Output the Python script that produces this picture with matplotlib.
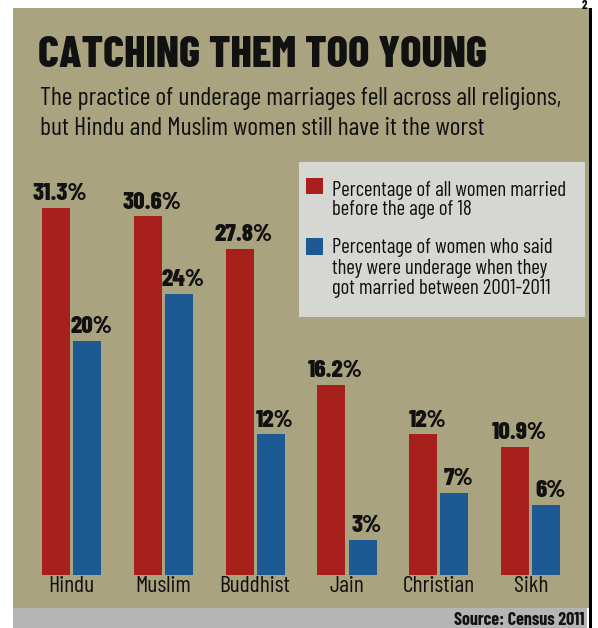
import matplotlib
matplotlib.use("Agg")
import matplotlib.pyplot as plt
from matplotlib.patches import Rectangle

# datos
religions = ["Hindu", "Muslim", "Buddhist", "Jain", "Christian", "Sikh"]
married_before_18 = [31.3, 30.6, 27.8, 16.2, 12.0, 10.9]
underage_2001_2011 = [20, 24, 12, 3, 7, 6]
labels_red = ["31.3%", "30.6%", "27.8%", "16.2%", "12%", "10.9%"]
labels_blue = ["20%", "24%", "12%", "3%", "7%", "6%"]

RED = "#a8201c"
BLUE = "#1d5a93"
TAN = "#aaa37f"
GRAY = "#b5b5b5"
LEG_BG = "#d6d6d3"
INK = "#111111"

NARROW = ["Barlow Condensed", "DejaVu Sans"]

W, H = 598, 628
fig = plt.figure(figsize=(W / 100, H / 100), dpi=100)
fig.patch.set_facecolor("white")


def fx(px):
    return px / W


def fy(py):
    return 1 - py / H


def rect(x, y_top, w, h, color, z):
    # rectangulo en pixeles (origen arriba-izquierda)
    fig.patches.append(Rectangle((fx(x), fy(y_top + h)), w / W, h / H,
                                 transform=fig.transFigure, facecolor=color,
                                 edgecolor="none", zorder=z))


# fondo del panel, franja gris y borde
rect(13, 8, 576, 600, TAN, -3)
rect(13, 608, 574, 20, GRAY, -3)
rect(589, 8, 3, 620, "black", -2)
# leyenda (cajas)
rect(299, 162, 286, 155, LEG_BG, -2)
rect(306, 178, 17, 16, RED, -1)
rect(306, 238, 17, 17, BLUE, -1)

# titulos
fig.text(fx(38), fy(67), "CATCHING THEM TOO YOUNG", family=NARROW, fontweight=800,
         fontsize=32, color=INK, va="baseline", ha="left")
fig.text(fx(40), fy(105), "The practice of underage marriages fell across all religions,",
         family=NARROW, fontsize=18.6, color=INK, va="baseline", ha="left")
fig.text(fx(40), fy(135), "but Hindu and Muslim women still have it the worst",
         family=NARROW, fontsize=18.6, color=INK, va="baseline", ha="left")
fig.text(fx(584), fy(0), "2", family=NARROW, fontweight="bold", fontsize=9,
         color="black", va="top", ha="center")

leg_lines = [
    (196, "Percentage of all women married"),
    (215, "before the age of 18"),
    (253, "Percentage of women who said"),
    (274, "they were underage when they"),
    (294, "got married between 2001-2011"),
]
for y, s in leg_lines:
    fig.text(fx(332), fy(y), s, family=NARROW, fontsize=15, color=INK,
             va="baseline", ha="left")

# fuente
fig.text(fx(585), fy(625), "Source: Census 2011", family=NARROW, fontweight="bold",
         fontsize=13, color=INK, va="baseline", ha="right")

# barras
x0, step, base, ppu = 71.3, 91.9, 575, 11.72
ax = fig.add_axes([fx(13), 1 - base / H, 576 / W, (base - 160) / H])
ax.set_facecolor("none")
ax.set_xlim((13 - x0) / step, (589 - x0) / step)
ax.set_ylim(0, (base - 160) / ppu)
for s in ax.spines.values():
    s.set_visible(False)
ax.set_yticks([])

xs = list(range(len(religions)))
bw = 28 / step
off = 15.5 / step
bars_r = ax.bar([x - off for x in xs], married_before_18, width=bw, color=RED, zorder=3)
bars_b = ax.bar([x + off for x in xs], underage_2001_2011, width=bw, color=BLUE, zorder=3)

for bars, labs in ((bars_r, labels_red), (bars_b, labels_blue)):
    for b, lab in zip(bars, labs):
        ax.annotate(lab, (b.get_x() + b.get_width() / 2, b.get_height()),
                    xytext=(3, 2), textcoords="offset points", ha="center", va="bottom",
                    family=NARROW, fontweight=800, fontsize=18, color=INK)

ax.set_xticks(xs)
ax.set_xticklabels(religions, family=NARROW, fontsize=17, color=INK)
ax.tick_params(axis="x", length=0, pad=1)

fig.savefig("out.png", dpi=100, facecolor=fig.get_facecolor())
